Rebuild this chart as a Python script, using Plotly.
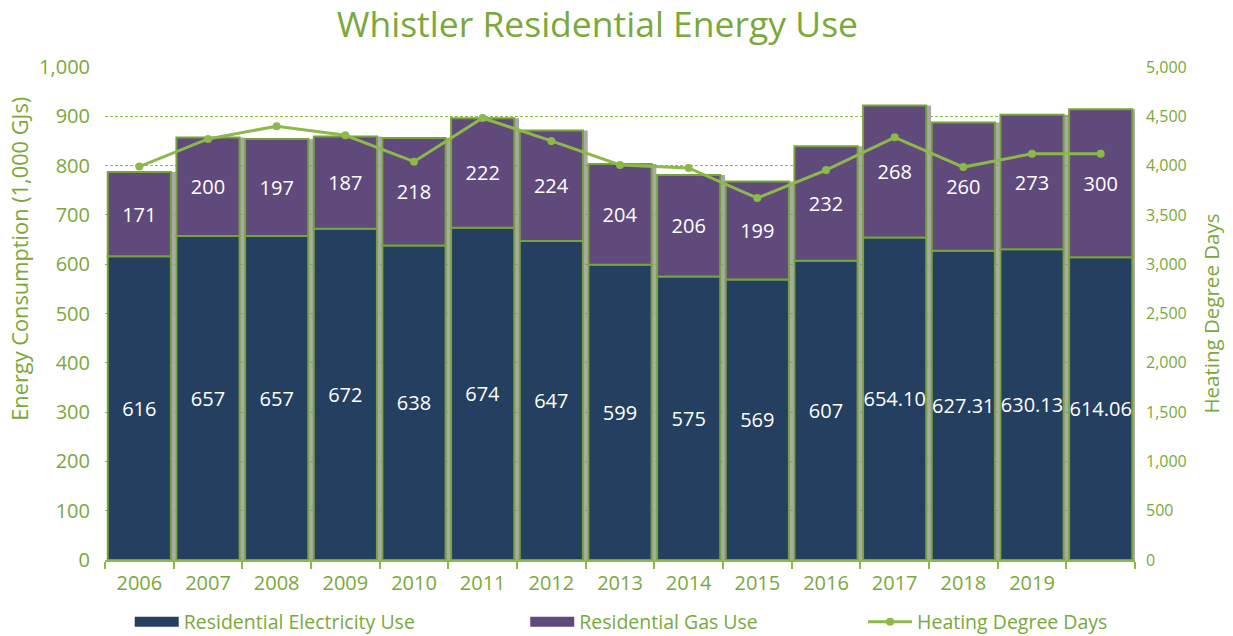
import plotly.graph_objects as go

years = ["2006", "2007", "2008", "2009", "2010", "2011", "2012", "2013",
         "2014", "2015", "2016", "2017", "2018", "2019", "2020"]
year_labels = ["2006", "2007", "2008", "2009", "2010", "2011", "2012", "2013",
               "2014", "2015", "2016", "2017", "2018", "2019", ""]
electricity = [616, 657, 657, 672, 638, 674, 647, 599, 575, 569, 607,
               654.10, 627.31, 630.13, 614.06]
electricity_text = ["616", "657", "657", "672", "638", "674", "647", "599",
                    "575", "569", "607", "654.10", "627.31", "630.13", "614.06"]
gas = [171, 200, 197, 187, 218, 222, 224, 204, 206, 199, 232, 268, 260, 273, 300]
hdd = [3990, 4270, 4400, 4308, 4040, 4483, 4250, 4006, 3976, 3671, 3955,
       4287, 3985, 4121, 4121]

GREEN = "#7AA83B"
LINE_GREEN = "#8DB84A"
BORDER = "#77A33A"
NAVY = "#243F60"
PURPLE = "#604A7B"
FONT = "Open Sans"
BAR_W = 0.92

totals = [e + g for e, g in zip(electricity, gas)]

fig = go.Figure()
# soft drop shadow behind each stacked bar
fig.add_trace(go.Bar(x=years, y=totals, width=BAR_W, offset=-BAR_W / 2 + 0.07,
                     marker_color="rgba(140,140,140,0.75)", marker_line_width=0,
                     showlegend=False, hoverinfo="skip"))
fig.add_trace(go.Bar(x=years, y=electricity, name="Residential Electricity Use",
                     width=BAR_W, marker_color=NAVY,
                     marker_line=dict(color=BORDER, width=2),
                     text=electricity_text, textposition="inside",
                     insidetextanchor="middle", textangle=0,
                     textfont=dict(color="white", size=20, family=FONT),
                     showlegend=False))
fig.add_trace(go.Bar(x=years, y=gas, base=electricity, name="Residential Gas Use",
                     width=BAR_W, marker_color=PURPLE,
                     marker_line=dict(color=BORDER, width=2),
                     text=[str(g) for g in gas], textposition="inside",
                     insidetextanchor="middle", textangle=0,
                     textfont=dict(color="white", size=20, family=FONT),
                     showlegend=False))
fig.add_trace(go.Scatter(x=years, y=hdd, name="Heating Degree Days", yaxis="y2",
                         mode="lines+markers",
                         line=dict(color=LINE_GREEN, width=3),
                         marker=dict(size=8, color=LINE_GREEN),
                         legend="legend3"))
# legend keys drawn as wide blocks like the original
fig.add_trace(go.Scatter(x=[None], y=[None], mode="lines", name="Residential Electricity Use",
                         line=dict(color=NAVY, width=13), legend="legend"))
fig.add_trace(go.Scatter(x=[None], y=[None], mode="lines", name="Residential Gas Use",
                         line=dict(color=PURPLE, width=13), legend="legend2"))

leg = dict(orientation="h", y=-0.126, yanchor="middle", xanchor="left",
           itemwidth=44, font=dict(size=19.5, color=GREEN, family=FONT),
           bgcolor="rgba(0,0,0,0)")

# the page body adds an 8px offset, so margins are shifted to compensate
fig.update_layout(
    width=1233, height=636,
    barmode="overlay",
    plot_bgcolor="white", paper_bgcolor="white",
    font=dict(family=FONT, color=GREEN, size=16),
    uniformtext=dict(minsize=20, mode="show"),
    margin=dict(l=97, r=106, t=59, b=84, autoexpand=False),
    title=dict(text="Whistler Residential Energy Use", x=0.478, xanchor="center",
               y=0.974, yanchor="middle", automargin=False,
               font=dict(size=35.5, color=GREEN, family=FONT)),
    legend=dict(leg, x=0.024),
    legend2=dict(leg, x=0.408),
    legend3=dict(leg, x=0.736),
    showlegend=True,
)
fig.update_xaxes(type="category", tickvals=years, ticktext=year_labels,
                 range=[-0.5, 14.5],
                 tickson="boundaries", ticks="outside", ticklen=7, tickcolor=LINE_GREEN,
                 tickwidth=2, showline=True, linecolor=LINE_GREEN, linewidth=2,
                 ticklabelstandoff=4,
                 tickfont=dict(size=20, color=GREEN), showgrid=False, automargin=False)
fig.update_yaxes(range=[0, 1000], dtick=100, tickformat=",", ticks="",
                 showgrid=True, gridcolor="#8DB84A", griddash="3px,2px", gridwidth=1,
                 zeroline=False, showline=False, automargin=False,
                 ticklabelstandoff=14,
                 tickfont=dict(size=20, color=GREEN))
fig.update_layout(yaxis2=dict(overlaying="y", side="right", range=[0, 5000], dtick=500,
                              tickformat=",", ticks="", showgrid=False, zeroline=False,
                              showline=False, automargin=False, ticklabelstandoff=10,
                              tickfont=dict(size=16, color=GREEN),
                              title=dict(text="Heating Degree Days",
                                         font=dict(size=20.5, color=GREEN), standoff=18)))
fig.add_annotation(text="Energy Consumption (1,000 GJs)", textangle=-90,
                   xref="paper", yref="paper", x=-0.083, y=0.61,
                   xanchor="center", yanchor="middle", showarrow=False,
                   font=dict(size=21.8, color=GREEN, family=FONT))

fig.write_html("out.html")
